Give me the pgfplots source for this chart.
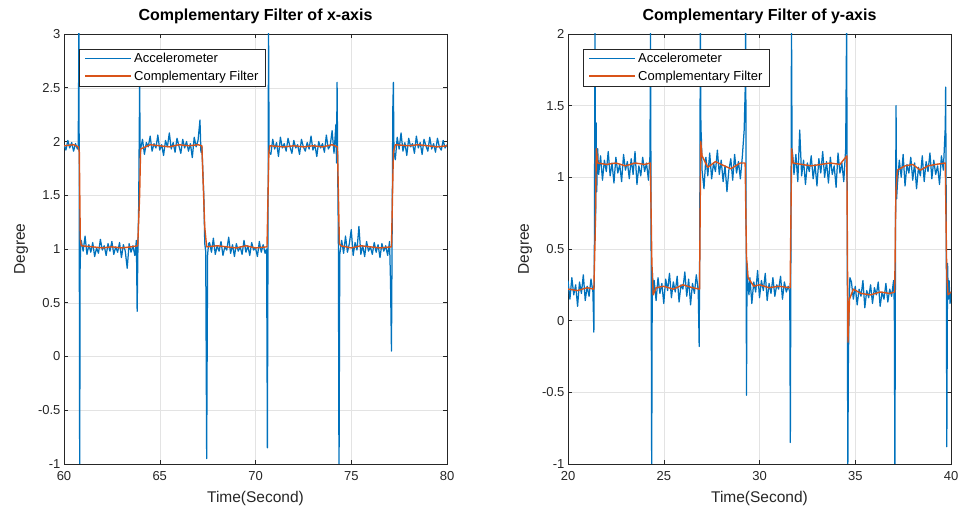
\documentclass[border=0pt]{standalone}
\usepackage{pgfplots}
\pgfplotsset{compat=1.18}
\usepackage{fontspec}
\setmainfont{Liberation Sans}
\definecolor{mblue}{rgb}{0,0.447,0.741}
\definecolor{morange}{rgb}{0.85,0.325,0.098}
\definecolor{axgray}{rgb}{0.15,0.15,0.15}
\pgfplotsset{
 mystyle/.style={
  scale only axis, width=383pt, height=430pt,
  axis line style={axgray, line width=0.8pt},
  tick style={axgray, line width=0.5pt},
  major tick length=4pt,
  tick align=inside,
  tick pos=both,
  grid=major, grid style={gray!22, line width=0.4pt},
  ticklabel style={font=\fontsize{13}{13}\selectfont, text=axgray},
  xticklabel style={yshift=-4pt},
  title style={font=\bfseries\fontsize{16}{16}\selectfont, at={(0.5,1)}, anchor=south, yshift=1pt},
  label style={font=\fontsize{15.5}{15.5}\selectfont, text=axgray},
  xlabel style={yshift=-4pt},
  ylabel style={yshift=3pt},
  legend style={font=\fontsize{13}{13}\selectfont, draw=axgray, line width=0.8pt,
    at={(0.039,0.965)}, anchor=north west, inner xsep=5pt, inner ysep=2pt, row sep=3pt, cells={anchor=west}},
  legend image code/.code={\draw[#1] (0pt,0.5pt) -- (46pt,0.5pt);},
  every legend image post/.style={line width=1.8pt},
  xlabel={Time(Second)}, ylabel={Degree},
 },
 acc/.style={mblue, line width=1.25pt, mark=none, line join=round},
 filt/.style={morange, line width=1.4pt, mark=none, line join=round},
}
\begin{document}
\begin{tikzpicture}
\useasboundingbox (0,0) rectangle (960pt,516pt);
\begin{axis}[mystyle, at={(64pt,52pt)}, anchor=south west,
  title={Complementary Filter of x-axis},
  xmin=60, xmax=80, ymin=-1, ymax=3,
  xtick={60,65,70,75,80}, xticklabels={60,65,70,75,80},
  ytick={-1,-0.5,0,0.5,1,1.5,2,2.5,3},
  yticklabels={-1,-0.5,0,0.5,1,1.5,2,2.5,3}]
\addplot[acc] coordinates {
(60.0,1.97)(60.1,1.92)(60.2,2.01)(60.3,1.94)(60.4,1.99)(60.5,1.91)(60.6,1.98)(60.7,1.93)
(60.74,1.95)(60.76,2.4)(60.78,3.2)(60.8,0.9)(60.82,-1.2)(60.84,0.8)(60.87,1.05)
(60.9,1.08)(61.0,0.98)(61.1,1.12)(61.2,0.95)(61.3,1.04)(61.4,0.97)(61.5,1.06)(61.6,0.93)
(61.7,1.01)(61.8,0.96)(61.9,1.09)(62.0,0.99)(62.1,1.03)(62.2,0.94)(62.3,1.05)(62.4,0.98)
(62.5,1.07)(62.6,0.95)(62.7,1.02)(62.8,0.97)(62.9,1.06)(63.0,0.92)(63.1,1.04)(63.2,0.98)
(63.3,0.82)(63.4,1.05)(63.5,0.97)(63.6,1.03)(63.7,0.94)(63.78,1.08)
(63.82,0.42)(63.86,1.0)(63.9,1.4)(63.95,2.55)(63.98,1.85)
(64.0,1.93)(64.1,2.02)(64.2,1.88)(64.3,1.99)(64.4,1.95)(64.5,2.05)(64.6,1.91)(64.7,1.98)
(64.8,1.94)(64.9,2.06)(65.0,1.92)(65.1,1.97)(65.2,1.87)(65.3,2.01)(65.4,1.95)(65.5,2.08)
(65.6,1.93)(65.7,1.99)(65.8,1.90)(65.9,2.03)(66.0,1.96)(66.1,1.89)(66.2,2.02)(66.3,1.94)
(66.4,2.00)(66.5,1.91)(66.6,1.98)(66.7,1.85)(66.8,2.04)(66.9,1.95)(67.0,2.01)(67.1,2.20)
(67.15,1.90)(67.2,1.95)(67.3,1.5)(67.35,1.05)(67.4,0.98)(67.45,-0.95)(67.5,0.95)(67.55,1.05)
(67.6,1.06)(67.7,0.97)(67.8,1.10)(67.9,0.95)(68.0,1.03)(68.1,0.98)(68.2,1.07)(68.3,0.94)
(68.4,1.02)(68.5,0.99)(68.6,1.11)(68.7,0.96)(68.8,1.04)(68.9,0.93)(69.0,1.05)(69.1,0.98)
(69.2,1.02)(69.3,0.95)(69.4,1.08)(69.5,0.97)(69.6,1.03)(69.7,0.94)(69.8,1.06)(69.9,0.99)
(70.0,1.01)(70.1,0.93)(70.2,1.07)(70.3,0.97)(70.4,1.04)(70.5,0.96)
(70.58,1.0)(70.62,-0.85)(70.65,0.9)(70.68,3.1)(70.71,1.9)
(70.8,1.88)(70.9,2.02)(71.0,1.93)(71.1,1.99)(71.2,1.86)(71.3,2.04)(71.4,1.94)(71.5,1.98)
(71.6,1.91)(71.7,2.03)(71.8,1.95)(71.9,1.89)(72.0,2.01)(72.1,1.94)(72.2,1.97)(72.3,1.88)
(72.4,2.02)(72.5,1.95)(72.6,1.91)(72.7,1.99)(72.8,1.93)(72.9,2.05)(73.0,1.92)(73.1,1.97)
(73.2,1.86)(73.3,2.00)(73.4,1.94)(73.5,1.98)(73.6,1.90)(73.7,2.06)(73.8,1.93)(73.9,1.96)
(74.0,2.10)(74.1,1.89)(74.2,2.16)(74.23,1.80)
(74.26,2.55)(74.3,1.6)(74.33,1.0)(74.36,-1.2)(74.4,0.95)
(74.5,1.08)(74.6,0.96)(74.7,1.12)(74.8,0.97)(74.9,1.05)(75.0,1.18)(75.1,0.94)(75.2,1.06)
(75.3,0.99)(75.4,1.21)(75.5,0.95)(75.6,1.03)(75.7,0.93)(75.8,1.07)(75.9,0.98)(76.0,1.02)
(76.1,0.95)(76.2,1.06)(76.3,0.97)(76.4,1.04)(76.5,0.92)(76.6,1.05)(76.7,0.98)(76.8,1.03)
(76.9,0.94)(77.0,1.07)
(77.05,0.7)(77.1,0.05)(77.13,1.0)(77.17,2.3)(77.2,2.55)(77.23,1.9)
(77.3,1.83)(77.4,2.04)(77.5,1.93)(77.6,2.08)(77.7,1.91)(77.8,1.99)(77.9,1.87)(78.0,2.03)
(78.1,1.95)(78.2,1.98)(78.3,1.89)(78.4,2.05)(78.5,1.94)(78.6,1.99)(78.7,1.88)(78.8,2.02)
(78.9,1.96)(79.0,1.91)(79.1,2.04)(79.2,1.93)(79.3,1.98)(79.4,1.90)(79.5,2.03)(79.6,1.95)
(79.7,1.92)(79.8,2.01)(79.9,1.94)(80.0,1.97)
};
\addlegendentry{Accelerometer}
\addplot[filt] coordinates {
(60,1.96)(60.5,1.97)(60.75,1.95)(60.8,1.9)(60.85,1.1)(60.9,1.03)(61.5,1.02)(62,1.01)
(62.5,1.02)(63,1.01)(63.5,1.02)(63.85,1.03)(63.95,1.5)(64.0,1.93)(64.5,1.97)(65,1.96)
(65.5,1.95)(66,1.97)(66.5,1.96)(67,1.97)(67.2,1.96)(67.35,1.2)(67.45,1.02)(68,1.03)
(68.5,1.02)(69,1.01)(69.5,1.03)(70,1.01)(70.6,1.02)(70.7,1.9)(70.75,1.96)(71.5,1.95)
(72,1.96)(72.5,1.95)(73,1.96)(73.5,1.95)(74,1.97)(74.28,1.95)(74.38,1.05)(74.45,1.03)
(75,1.01)(75.5,1.03)(76,1.02)(76.5,1.01)(77.1,1.02)(77.2,1.9)(77.3,1.97)(78,1.96)
(78.5,1.97)(79,1.96)(79.5,1.95)(80,1.96)
};
\addlegendentry{Complementary Filter}
\end{axis}
\begin{axis}[mystyle, at={(568pt,52pt)}, anchor=south west,
  title={Complementary Filter of y-axis},
  xmin=20, xmax=40, ymin=-1, ymax=2,
  xtick={20,25,30,35,40}, xticklabels={20,25,30,35,40},
  ytick={-1,-0.5,0,0.5,1,1.5,2},
  yticklabels={-1,-0.5,0,0.5,1,1.5,2}]
\addplot[acc] coordinates {
(20.0,0.28)(20.1,0.15)(20.2,0.30)(20.3,0.18)(20.4,0.25)(20.5,0.10)(20.6,0.27)(20.7,0.19)
(20.8,0.32)(20.9,0.14)(21.0,0.24)(21.1,0.17)(21.2,0.29)(21.3,0.20)
(21.35,-0.08)(21.38,0.6)(21.41,2.1)(21.44,0.7)(21.47,1.38)(21.5,0.9)
(21.55,1.2)(21.6,1.02)(21.7,1.15)(21.8,0.98)(21.9,1.12)(22.0,1.04)(22.1,1.18)(22.2,1.01)
(22.3,1.10)(22.4,0.96)(22.5,1.14)(22.6,1.03)(22.7,1.09)(22.8,0.97)(22.9,1.16)(23.0,1.05)
(23.1,1.11)(23.2,0.99)(23.3,1.13)(23.4,1.02)(23.5,1.18)(23.6,0.95)(23.7,1.08)(23.8,1.01)
(23.9,1.14)(24.0,1.04)(24.1,1.10)(24.2,0.98)
(24.28,1.15)(24.31,2.1)(24.34,0.5)(24.37,-1.1)(24.4,0.35)(24.45,0.2)
(24.5,0.28)(24.6,0.14)(24.7,0.30)(24.8,0.19)(24.9,0.26)(25.0,0.12)(25.1,0.29)(25.2,0.21)
(25.3,0.33)(25.4,0.16)(25.5,0.27)(25.6,0.20)(25.7,0.31)(25.8,0.13)(25.9,0.25)(26.0,0.22)
(26.1,0.34)(26.2,0.17)(26.3,0.29)(26.4,0.11)(26.5,0.26)(26.6,0.19)(26.7,0.32)(26.8,0.21)
(26.85,-0.18)(26.88,0.6)(26.91,2.1)(26.94,1.35)(26.97,1.25)
(27.0,1.05)(27.1,0.92)(27.2,1.14)(27.3,1.01)(27.4,1.17)(27.5,0.99)(27.6,1.10)(27.7,1.04)
(27.8,1.19)(27.9,1.02)(28.0,1.12)(28.1,0.97)(28.2,1.08)(28.3,0.90)(28.4,1.05)(28.5,1.13)
(28.6,0.98)(28.7,1.16)(28.8,1.03)(28.9,1.11)(29.0,0.99)(29.1,1.14)(29.2,1.33)
(29.25,1.6)(29.28,2.1)(29.3,0.7)(29.32,-0.52)(29.35,0.4)(29.4,0.25)
(29.45,0.18)(29.5,0.30)(29.6,0.12)(29.7,0.27)(29.8,0.20)(29.9,0.35)(30.0,0.16)(30.1,0.28)
(30.2,0.21)(30.3,0.33)(30.4,0.14)(30.5,0.26)(30.6,0.19)(30.7,0.30)(30.8,0.17)(30.9,0.25)
(31.0,0.22)(31.1,0.31)(31.2,0.15)(31.3,0.27)(31.4,0.20)(31.5,0.24)
(31.58,0.2)(31.61,-0.85)(31.64,0.5)(31.67,2.1)(31.7,1.2)
(31.75,1.13)(31.8,1.02)(31.9,1.16)(32.0,0.97)(32.1,1.33)(32.2,1.01)(32.3,1.12)(32.4,0.95)
(32.5,1.10)(32.6,1.04)(32.7,1.15)(32.8,0.99)(32.9,1.09)(33.0,0.94)(33.1,1.13)(33.2,1.03)
(33.3,1.18)(33.4,1.00)(33.5,1.11)(33.6,0.96)(33.7,1.14)(33.8,1.02)(33.9,1.08)(34.0,0.93)
(34.1,1.17)(34.2,1.03)(34.3,1.10)(34.4,0.97)(34.5,1.20)
(34.55,2.1)(34.58,0.75)(34.61,-1.1)(34.64,-0.3)(34.68,0.1)(34.72,0.3)
(34.8,0.27)(34.9,0.15)(35.0,0.24)(35.1,0.11)(35.2,0.22)(35.3,0.17)(35.4,0.28)(35.5,0.09)
(35.6,0.21)(35.7,0.16)(35.8,0.25)(35.9,0.12)(36.0,0.23)(36.1,0.18)(36.2,0.27)(36.3,0.10)
(36.4,0.20)(36.5,0.15)(36.6,0.26)(36.7,0.13)(36.8,0.22)(36.9,0.17)(37.0,0.28)
(37.04,0.1)(37.07,-1.1)(37.1,0.5)(37.13,1.5)(37.16,0.85)
(37.2,0.95)(37.3,1.12)(37.4,1.00)(37.5,1.16)(37.6,0.94)(37.7,1.09)(37.8,1.03)(37.9,1.14)
(38.0,0.98)(38.1,1.10)(38.2,0.92)(38.3,1.07)(38.4,1.01)(38.5,1.15)(38.6,0.97)(38.7,1.11)
(38.8,1.04)(38.9,1.17)(39.0,0.99)(39.1,1.12)(39.2,1.02)(39.3,1.08)(39.4,0.95)(39.5,1.15)
(39.6,1.05)(39.7,1.35)
(39.72,1.63)(39.75,0.8)(39.78,-0.88)(39.82,0.4)(39.86,0.15)
(39.9,0.28)(39.95,0.12)(40.0,0.2)
};
\addlegendentry{Accelerometer}
\addplot[filt] coordinates {
(20,0.22)(20.5,0.21)(21,0.23)(21.35,0.22)(21.42,0.6)(21.48,1.2)(21.55,1.1)(22,1.09)
(22.5,1.10)(23,1.08)(23.5,1.10)(24,1.09)(24.3,1.1)(24.38,0.4)(24.45,0.18)(24.6,0.23)
(25,0.24)(25.5,0.22)(26,0.25)(26.5,0.23)(26.87,0.22)(26.93,1.25)(27.0,1.15)(27.3,1.07)
(27.7,1.11)(28,1.09)(28.5,1.06)(29,1.10)(29.25,1.1)(29.32,0.45)(29.4,0.3)(29.7,0.24)
(30,0.25)(30.5,0.23)(31,0.24)(31.6,0.23)(31.68,1.2)(31.75,1.1)(32.2,1.09)(32.7,1.08)
(33.2,1.09)(33.7,1.10)(34.2,1.09)(34.56,1.15)(34.62,-0.15)(34.7,0.15)(34.9,0.22)(35.3,0.19)
(35.8,0.18)(36.3,0.20)(36.8,0.19)(37.06,0.2)(37.12,0.9)(37.2,1.05)(37.6,1.08)(38,1.09)
(38.4,1.05)(38.8,1.08)(39.2,1.09)(39.7,1.1)(39.78,0.3)(39.85,0.18)(40,0.2)
};
\addlegendentry{Complementary Filter}
\end{axis}
\end{tikzpicture}
\end{document}
